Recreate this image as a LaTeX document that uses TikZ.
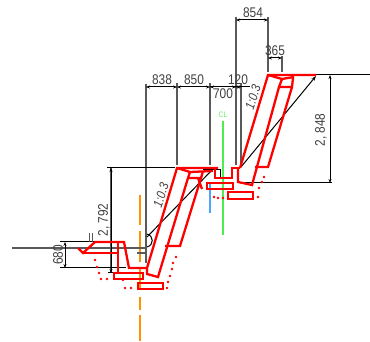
\documentclass[tikz,border=0pt]{standalone}
\usepackage{fontspec}
\setmainfont{Liberation Sans}[FakeStretch=0.85]
\usetikzlibrary{arrows.meta}
\tikzset{
  wall/.style={draw=red,line width=2.3pt,line join=miter},
  thin/.style={draw=black,line width=1pt},
  ext/.style={draw=black!65,line width=1.5pt},
  dim/.style={draw=black,line width=1pt,{Stealth[length=4pt,width=3pt]}-{Stealth[length=4pt,width=3pt]}},
  lab/.style={text=black!75,font=\fontsize{14}{14}\selectfont,inner sep=0pt},
  slab/.style={lab,font=\fontsize{13}{13}\selectfont\itshape,rotate=72},
  reddot/.style={fill=red,draw=none}
}
\begin{document}
\begin{tikzpicture}[x=1pt,y=-1pt]
\useasboundingbox (0,0) rectangle (370,342);
% centre lines
\draw[draw=orange!85!yellow,line width=1.4pt] (140,195)--(140,225) (140,231)--(140,262) (140,268)--(140,290) (140,297)--(140,310) (140,315)--(140,341);
\draw[draw=green!90!black!70!white,line width=1.4pt] (223,121)--(223,235);
\draw[draw=blue!50!cyan!70!white,line width=1.4pt] (210,183)--(210,213);
% extension lines
\draw[ext] (146,84)--(146,263) (177,83)--(177,165) (210,83)--(210,165)
  (236,17)--(236,165) (241,83)--(241,166) (268,17)--(268,72) (282,56)--(282,72)
  (111,168)--(111,273);
\draw[thin] (107,168)--(175,168) (316,75)--(370,75) (238,183)--(332,183)
  (60,242)--(120,242) (60,268)--(126,268) (108,273)--(115,273)
  (203,170)--(220,170)--(220,177);
\draw[ext] (12,248)--(146,248) (137,253)--(146,253);
\draw[ext,line width=0.8pt] (89.5,233)--(89.5,242) (92.5,233)--(92.5,242);
% dimensions
\draw[dim] (146,87)--(177,87);
\draw[dim] (177,87)--(210,87);
\draw[thin] (210,87)--(250,87);
\draw[dim] (210,87)--(236,87);
\draw[dim] (236,87)--(241,87);
\draw[dim] (236,20)--(268,20);
\draw[dim] (268,58)--(282,58);
\draw[dim] (330,75)--(330,183);
\draw[dim] (111,168)--(111,273);
\draw[dim] (65,242)--(65,268);
% slope reference lines
\draw[thin,-{Stealth[length=5pt,width=3.5pt]}] (241,167)--(316,76);
\draw[thin] (147,237)--(212,170);
\draw[thin] (147,234) .. controls (154,236) and (154,245) .. (147,247);
% upper wall
\draw[wall] (316,75)--(268,75)--(240,168);
\draw[wall] (268,75)--(282,79)--(294,77);
\draw[wall] (282,79)--(279,87)--(252,185)--(238,182)--(238,168);
\draw[wall] (279,87)--(292,87)--(293,78);
\draw[wall] (292,87)--(268,167)--(255,167);
% upper footing
\draw[wall] (228,192) rectangle (253,199);
\draw[wall] (207,183) rectangle (233,189);
% channel
\draw[wall] (240,168)--(232,168)--(232,178)--(215,178)--(215,168);
% lower wall
\draw[wall] (218,168)--(177,168)--(147,268);
\draw[wall] (177,168)--(190,172)--(213,171);
\draw[wall] (190,172)--(188,178)--(158,277)--(147,274)--(147,268);
\draw[wall] (188,178)--(201,178)--(180,246)--(165,246);
\draw[wall] (201,178)--(203,171);
\draw[wall] (198,178)--(202,189);
% lower footing
\draw[wall] (138,283) rectangle (163,289);
\draw[wall] (114,273) rectangle (143,279);
% toe
\draw[wall] (78,248)--(83,253)--(95,242)--(124,242)--(129,268)--(147,268);
\draw[wall] (83,253)--(118,253);
\draw[wall] (118,242)--(118,273);
% dotted outline
\foreach \p in {(214,197),(218,198),(223,198),(264,177),(262,182),(259,188),(258,197),
  (95,260),(97,267),(99,273),(101,279),(107,279),(123,280),(125,288),(131,288),
  (176,257),(173,263),(172,269),(170,276),(168,282),(167,288)}
  \fill[reddot] \p circle[radius=1.3pt];
% texts
\node[lab] (t854) at (253,13) {854};
\node[lab] (t365) at (275,51) {365};
\node[lab] (t838) at (162,80) {838};
\node[lab] (t850) at (194,80) {850};
\node[lab] (t120) at (238,80) {120};
\node[lab] (t700) at (223,94) {700};
\node[lab,rotate=90] (t2848) at (321,130) {2, 848};
\node[lab,rotate=90] (t2792) at (104,220) {2, 792};
\node[lab,rotate=90] (t680) at (58,255) {680};
\node[slab] (s1) at (253,97) {1:0.3};
\node[slab] (s2) at (161,195) {1:0.3};
\node[lab,text=green!90!black!60!white,font=\fontsize{8}{8}\selectfont] (cl) at (223,115) {CL};
\end{tikzpicture}
\end{document}
